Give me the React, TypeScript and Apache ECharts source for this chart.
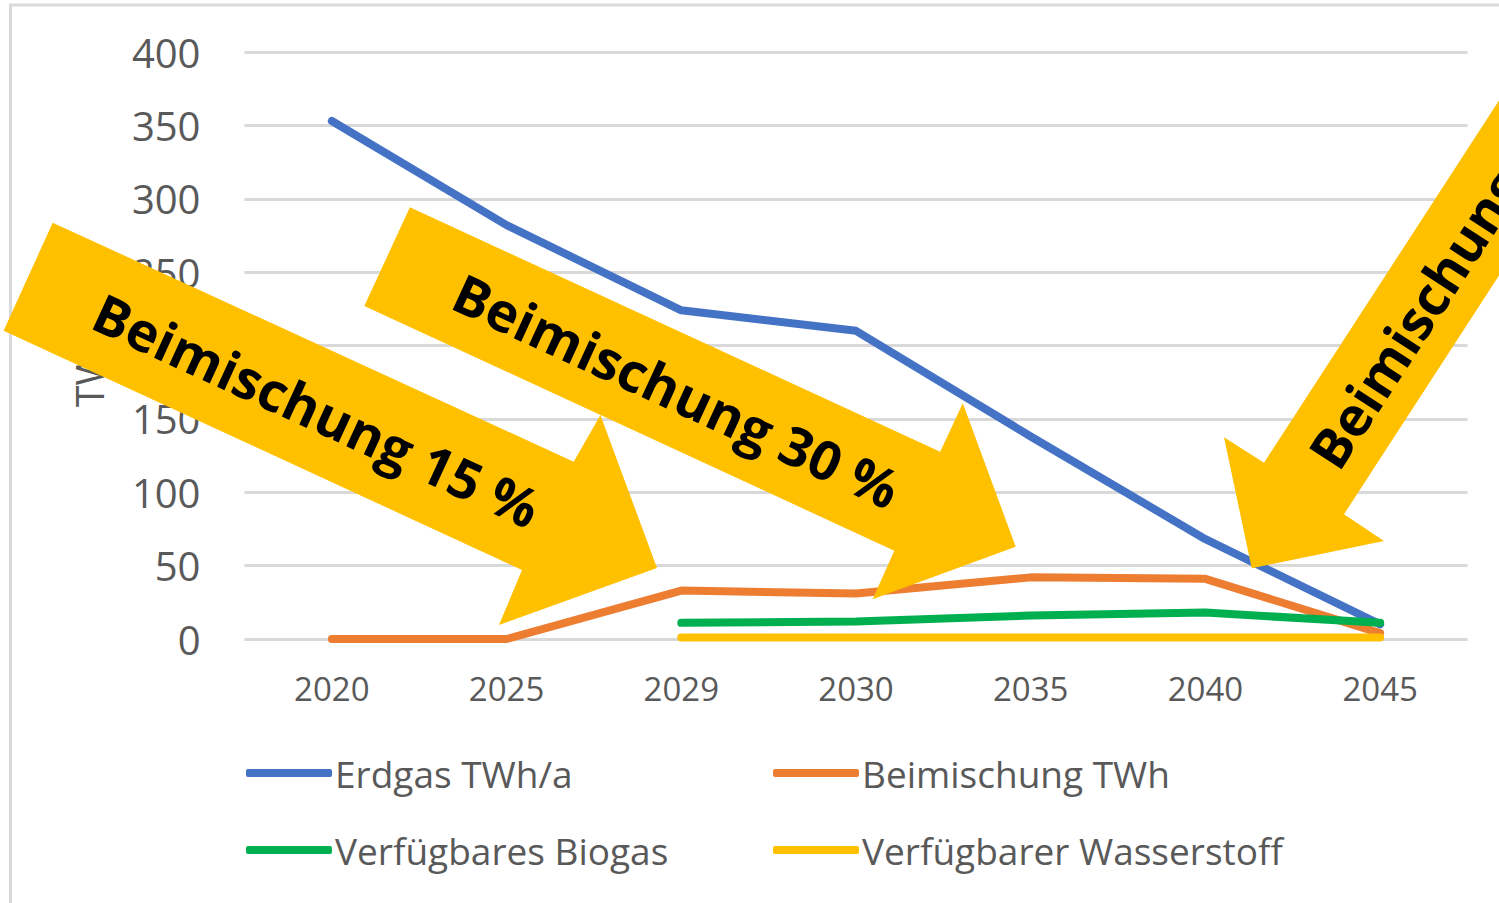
import React, { useEffect, useRef } from "react";
import * as echarts from "echarts";

const categories = ["2020", "2025", "2029", "2030", "2035", "2040", "2045"];
const erdgas = [353, 282, 224, 210, 138, 68, 10];
const beimischung = [0, 0, 33, 31, 42, 41, 4];
const biogas: (number | null)[] = [null, null, 11, 12, 16, 18, 11];
const wasserstoff: (number | null)[] = [null, null, 1, 1, 1, 1, 1];

const seriesNames = [
  "Erdgas TWh/a",
  "Beimischung TWh",
  "Verfügbares Biogas",
  "Verfügbarer Wasserstoff",
];
const seriesColors = ["#4472C4", "#ED7D31", "#00B050", "#FFC000"];
const yAxisName = "TWh/a";
const arrowTexts = ["Beimischung 15 %", "Beimischung 30 %", "Beimischung"];

const FONT = '"Open Sans", "Noto Sans", sans-serif';
const GREY = "#595959";
const ARROW = "#FFC000";

export default function App() {
  const ref = useRef<HTMLDivElement>(null);

  useEffect(() => {
    document.body.style.margin = "0";
    if (!ref.current) return;
    const chart = echarts.init(ref.current, undefined, { renderer: "svg" });

    const mkSeries = (i: number, data: (number | null)[]) => ({
      name: seriesNames[i],
      type: "line",
      data,
      color: seriesColors[i],
      showSymbol: false,
      symbol: "none",
      connectNulls: false,
      lineStyle: { width: 8, color: seriesColors[i], cap: "round", join: "round" },
      emphasis: { disabled: true },
      z: 2 + i,
    });

    const legendAt = (name: string, left: number, top: number) => ({
      show: true,
      data: [name],
      left,
      top,
      padding: 0,
      orient: "horizontal",
      icon: "roundRect",
      itemWidth: 86,
      itemHeight: 8,
      itemGap: 0,
      selectedMode: false,
      textStyle: { color: GREY, fontSize: 37, fontFamily: FONT, lineHeight: 40, padding: [0, 0, 0, -2] },
    });

    const arrowTextStyle = {
      fill: "#000",
      fontSize: 54,
      fontWeight: "bold",
      fontFamily: FONT,
      align: "center",
      verticalAlign: "middle",
    };

    chart.setOption({
      animation: false,
      backgroundColor: "#ffffff",
      grid: { left: 244.5, right: 31.5, top: 52, bottom: 264, containLabel: false },
      xAxis: {
        type: "category",
        data: categories,
        boundaryGap: true,
        axisLine: { show: false },
        axisTick: { show: false },
        axisLabel: { color: GREY, fontSize: 33, fontFamily: FONT, margin: 33 },
        splitLine: { show: false },
      },
      yAxis: {
        type: "value",
        min: 0,
        max: 400,
        interval: 50,
        axisLine: { show: false },
        axisTick: { show: false },
        axisLabel: { color: GREY, fontSize: 40, fontFamily: FONT, margin: 44 },
        splitLine: { show: true, lineStyle: { color: "#d9d9d9", width: 3 } },
      },
      legend: [
        legendAt(seriesNames[0], 246, 753),
        legendAt(seriesNames[1], 773, 753),
        legendAt(seriesNames[2], 246, 830),
        legendAt(seriesNames[3], 773, 830),
      ],
      series: [
        mkSeries(0, erdgas),
        mkSeries(1, beimischung),
        mkSeries(2, biogas),
        mkSeries(3, wasserstoff),
      ],
      graphic: [
        {
          type: "rect",
          silent: true,
          z: 0,
          shape: { x: 10.5, y: 5, width: 1600, height: 1000 },
          style: { fill: "none", stroke: "#d9d9d9", lineWidth: 3 },
        },
        {
          type: "text",
          silent: true,
          z: 10,
          x: 88,
          y: 407,
          rotation: Math.PI / 2,
          style: {
            text: yAxisName,
            fill: GREY,
            fontSize: 39,
            fontFamily: FONT,
            align: "left",
            verticalAlign: "middle",
          },
        },
        {
          type: "polygon",
          silent: true,
          z: 100,
          shape: {
            points: [
              [52.7, 222.7],
              [573.7, 461.7],
              [600.4, 415],
              [657, 568],
              [499, 625],
              [522, 570],
              [3.6, 330.7],
            ],
          },
          style: { fill: ARROW },
        },
        {
          type: "polygon",
          silent: true,
          z: 100,
          shape: {
            points: [
              [409.9, 207.3],
              [940.2, 451.7],
              [962.8, 403.3],
              [1015.7, 546.7],
              [872.6, 599.3],
              [894.3, 550.7],
              [364.3, 306],
            ],
          },
          style: { fill: ARROW },
        },
        {
          type: "polygon",
          silent: true,
          z: 100,
          shape: {
            points: [
              [1590.6, -40.6],
              [1264, 462.7],
              [1224, 437.3],
              [1251.7, 568.3],
              [1384, 541],
              [1344, 514.3],
              [1670.6, 11],
            ],
          },
          style: { fill: ARROW },
        },
        {
          type: "text",
          silent: true,
          z: 101,
          x: 317,
          y: 409.6,
          rotation: -0.431,
          style: { ...arrowTextStyle, text: arrowTexts[0] },
        },
        {
          type: "text",
          silent: true,
          z: 101,
          x: 676.8,
          y: 390.2,
          rotation: -0.432,
          style: { ...arrowTextStyle, text: arrowTexts[1] },
        },
        {
          type: "text",
          silent: true,
          z: 101,
          x: 1321.4,
          y: 461.7,
          rotation: 0.995,
          style: { ...arrowTextStyle, align: "left", text: arrowTexts[2] },
        },
      ],
    });

    return () => chart.dispose();
  }, []);

  return <div ref={ref} style={{ width: 1499, height: 903 }} />;
}
